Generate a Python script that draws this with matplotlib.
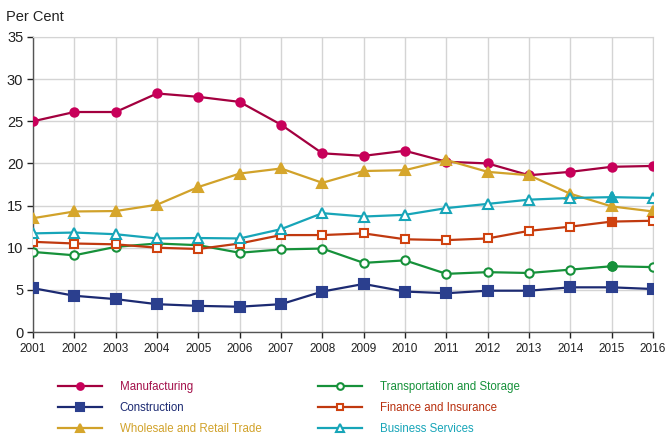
import matplotlib
matplotlib.use("Agg")
import matplotlib.pyplot as plt
from matplotlib.lines import Line2D

plt.rcParams["font.family"] = ["Liberation Sans", "DejaVu Sans"]

years = list(range(2001, 2017))
manufacturing = [25.0, 26.1, 26.1, 28.3, 27.9, 27.3, 24.6, 21.2, 20.9, 21.5, 20.2, 20.0, 18.6, 19.0, 19.6, 19.7]
construction = [5.2, 4.3, 3.9, 3.3, 3.1, 3.0, 3.3, 4.8, 5.7, 4.8, 4.6, 4.9, 4.9, 5.3, 5.3, 5.1]
wholesale = [13.5, 14.3, 14.35, 15.1, 17.2, 18.8, 19.4, 17.7, 19.1, 19.2, 20.4, 19.0, 18.6, 16.4, 14.9, 14.3]
transport = [9.5, 9.1, 10.1, 10.5, 10.3, 9.4, 9.8, 9.9, 8.2, 8.5, 6.9, 7.1, 7.0, 7.4, 7.8, 7.7]
finance = [10.7, 10.5, 10.4, 10.0, 9.85, 10.5, 11.5, 11.5, 11.7, 11.0, 10.9, 11.1, 12.0, 12.5, 13.1, 13.2]
business = [11.7, 11.8, 11.6, 11.1, 11.15, 11.1, 12.2, 14.1, 13.7, 13.9, 14.7, 15.2, 15.7, 15.9, 16.0, 15.9]
y_ticks = [0, 5, 10, 15, 20, 25, 30, 35]

series = [
    ("Manufacturing", manufacturing, "#a3003f", "#c8005a", "o", True, 6.0),
    ("Construction", construction, "#1c2a72", "#2b3f8e", "s", True, 6.5),
    ("Wholesale and Retail Trade", wholesale, "#d1a22a", "#d6a62c", "^", True, 7.0),
    ("Transportation and Storage", transport, "#16913a", "#16913a", "o", False, 6.0),
    ("Finance and Insurance", finance, "#c0390f", "#d0420f", "s", False, 6.0),
    ("Business Services", business, "#17a5b8", "#17a5b8", "^", False, 6.5),
]

fig = plt.figure(figsize=(6.65, 4.37), dpi=100)
ax = fig.add_axes([33/665, 1-332/437, 620/665, 295/437])

handles = []
for name, vals, lc, mc, mk, filled, ms in series:
    fc = mc if filled else "white"
    ax.plot(years, vals, color=lc, lw=1.6, marker=mk, ms=ms,
            mfc=fc, mec=mc, mew=1.5, zorder=3)
    if not filled:
        # hovered point (2015) shown filled
        ax.plot([years[14]], [vals[14]], linestyle="none", marker=mk, ms=ms,
                mfc=mc, mec=mc, mew=1.5, zorder=4)
    handles.append(Line2D([0], [0], color=lc, lw=1.6, marker=mk, ms=ms * 0.8,
                          mfc=fc, mec=mc, mew=1.5))

ax.set_xlim(2001, 2016)
ax.set_ylim(0, 35)
ax.set_xticks(years)
ax.set_yticks(y_ticks)
ax.tick_params(axis="x", labelsize=8.5, colors="#222222", length=4, width=1, pad=4)
ax.tick_params(axis="y", labelsize=10.5, colors="#222222", length=4, width=1, pad=3)
ax.grid(True, color="#d4d4d4", lw=1.0, zorder=0)
for s in ["top", "right"]:
    ax.spines[s].set_color("#d4d4d4")
for s in ["left", "bottom"]:
    ax.spines[s].set_color("#555555")
    ax.spines[s].set_linewidth(1.0)
ax.set_axisbelow(True)

fig.text(6/665, 1-17/437, "Per Cent", fontsize=10.5, color="#222222", va="center", ha="left")

labels = [s[0] for s in series]
textcolors = ["#a3104a", "#1c2a72", "#d1a22a", "#16913a", "#b8300f", "#17a5b8"]

for i, x0 in enumerate([58/665, 318/665]):
    leg = fig.legend(handles[3*i:3*i+3], labels[3*i:3*i+3], loc="upper left",
                     bbox_to_anchor=(x0, 1-381/437), frameon=False, fontsize=8.3,
                     handlelength=3.8, handletextpad=1.55, labelspacing=0.78,
                     borderaxespad=0, borderpad=0)
    for t, c in zip(leg.get_texts(), textcolors[3*i:3*i+3]):
        t.set_color(c)

fig.savefig("out.png", dpi=100)
